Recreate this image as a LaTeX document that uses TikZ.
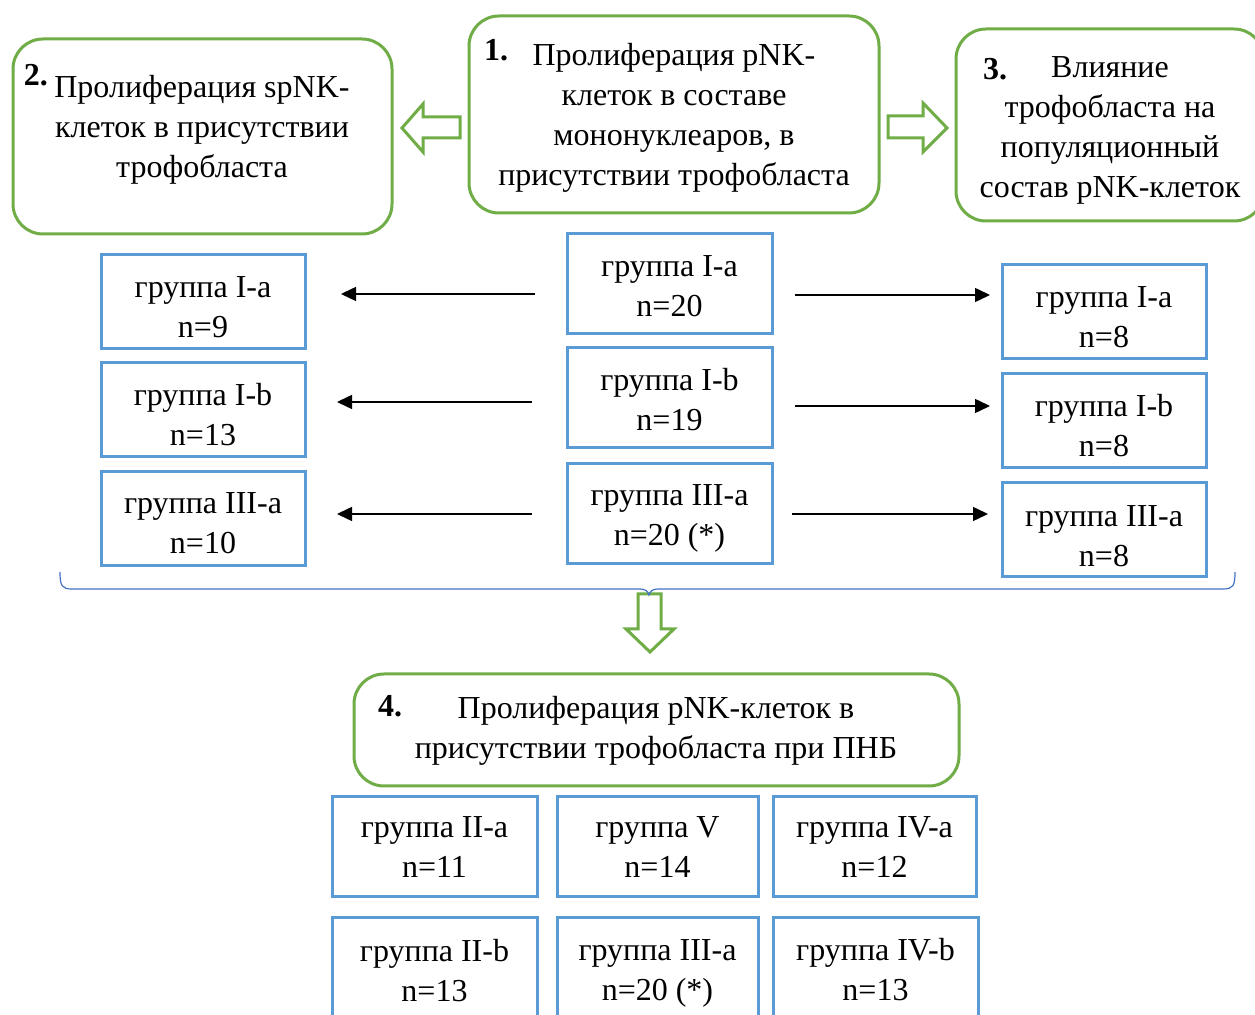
\documentclass[tikz,border=0pt]{standalone}
\usepackage{fontspec}
\setmainfont{Liberation Serif}
\usetikzlibrary{arrows.meta}
\definecolor{stagegreen}{RGB}{112,173,71}
\definecolor{groupblue}{RGB}{91,155,213}
\definecolor{braceblue}{RGB}{68,114,196}
\begin{document}
\begin{tikzpicture}
[x=0.5pt,y=-0.5pt,
  stagedecorate/.style={draw=stagegreen,line width=1.5pt,rounded corners=15pt,inner sep=0pt},%
  groupdecorate/.style={draw=groupblue,line width=1.5pt,inner sep=0pt},%
  textdecorate/.style={inner sep=0pt,align=center,font=\fontsize{16}{20}\selectfont},%
  numdecorate/.style={inner sep=0pt,font=\fontsize{16}{20}\selectfont\bfseries},%
  linedecorate/.style={-{Triangle[length=7.5pt,width=7pt]},line width=0.75pt},%
  hollowdecorate/.style={draw=stagegreen,line width=1.5pt,fill=white,line join=miter}]
\useasboundingbox[fill=white] (0,0) rectangle (1255,1015);
%% stages (green boxes)
\foreach \nodename/\x/\y/\w/\h in {st1/674/114.5/410/197, st2/202.5/136.5/379/195,
  st3/1110/125/308/192, st4/656.5/730/605/112} {
  \node (\nodename) at (\x,\y) [stagedecorate,minimum width=\w*0.5pt,minimum height=\h*0.5pt] {};
}
\node (tx1) at (674,118) [textdecorate] {Пролиферация pNK-\\клеток в составе\\мононуклеаров, в\\присутствии трофобласта};
\node (tx2) at (202,130) [textdecorate] {Пролиферация spNK-\\клеток в присутствии\\трофобласта};
\node (tx3) at (1110,130) [textdecorate] {Влияние\\трофобласта на\\популяционный\\состав pNK-клеток};
\node (tx4) at (656,731) [textdecorate] {Пролиферация pNK-клеток в\\присутствии трофобласта при ПНБ};
\foreach \nodename/\x/\y/\num in {nm1/496/50/1., nm2/36/75/2., nm3/995/69/3., nm4/390/706/4.} {
  \node (\nodename) at (\x,\y) [numdecorate] {\num};
}
%% groups (blue boxes)
\foreach \nodename/\x/\y/\w/\h/\dy/\txt in {
  mia/669.5/284/205/100/2/{группа I-a\\n=20}, mib/669.5/398/205/100/2/{группа I-b\\n=19},
  mic/669.5/514/205/100/4/{группа III-a\\n=20 (*)},
  lea/203/302/204/94/5/{группа I-a\\n=9}, leb/203/410/204/94/5/{группа I-b\\n=13},
  lec/203/519/204/94/4/{группа III-a\\n=10},
  ria/1104/312/204/94/5/{группа I-a\\n=8}, rib/1104/421/204/94/5/{группа I-b\\n=8},
  ric/1104/530/204/94/6/{группа III-a\\n=8},
  boa/434.5/847/205/100/0/{группа II-a\\n=11}, bob/657.5/847/201/100/0/{группа V\\n=14},
  boc/874.5/847/203/100/0/{группа IV-a\\n=12},
  bod/434.5/968/205/100/3/{группа II-b\\n=13}, boe/657.5/968/201/100/5/{группа III-a\\n=20 (*)},
  bof/875.5/968/205/100/2/{группа IV-b\\n=13}} {
  \node (\nodename) at (\x,\y) [groupdecorate,minimum width=\w*0.5pt,minimum height=\h*0.5pt] {};
  \node (\nodename-t) at (\x,\y+\dy) [textdecorate] {\txt};
}
%% arrow ends
\foreach \nodename/\x/\y in {la1/535/294, lb1/341/294, la2/532/402, lb2/337/402,
  la3/532/514, lb3/337/514, ra1/795/295, rb1/990/295, ra2/795/406, rb2/990/406,
  ra3/792/514, rb3/988/514} {
  \coordinate (\nodename) at (\x,\y);
}
%% arrows
\foreach \startnode/\endnode in {la1/lb1, la2/lb2, la3/lb3, ra1/rb1, ra2/rb2, ra3/rb3} {
  \draw[linedecorate] (\startnode) -- (\endnode);
}
%% hollow arrows
\draw[hollowdecorate] (460,117) -- (423,117) -- (423,104) -- (402,128) -- (423,152) -- (423,138) -- (460,138) -- cycle;
\draw[hollowdecorate] (888,116) -- (923,116) -- (923,103) -- (947,128) -- (923,152) -- (923,138) -- (888,138) -- cycle;
\draw[hollowdecorate] (638,594) -- (661,594) -- (661,629) -- (674,629) -- (650,652) -- (626,629) -- (638,629) -- cycle;
%% brace
\draw[braceblue,line width=0.6pt] (60,572) .. controls (60,586) and (62,589) .. (72,589) -- (640,589)
  .. controls (645,589) and (648,591) .. (649,595) .. controls (650,591) and (653,589) .. (658,589)
  -- (1223,589) .. controls (1233,589) and (1235,586) .. (1235,572);
\end{tikzpicture}
\end{document}
